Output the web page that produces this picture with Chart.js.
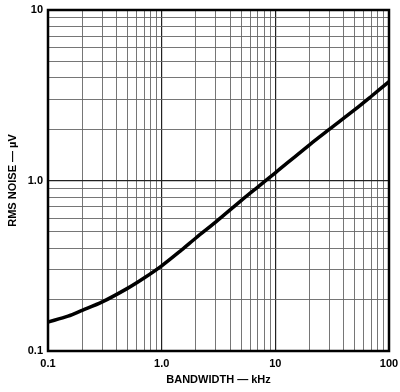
<!DOCTYPE html>
<html>
<head>
<meta charset="utf-8">
<script src="https://cdn.jsdelivr.net/npm/chart.js@4"></script>
<style>
  html, body { margin: 0; padding: 0; background: #fff; }
  #wrap { width: 400px; height: 392px; }
</style>
</head>
<body>
<div id="wrap"><canvas id="chart"></canvas></div>
<script>
// RMS noise vs bandwidth (log-log)
const bandwidthKHz = [0.1, 0.15, 0.2, 0.3, 0.5, 0.7, 1.0, 1.5, 2, 3, 5, 7, 10, 20, 30, 50, 70, 100];
const rmsNoiseUV   = [0.148, 0.160, 0.173, 0.194, 0.233, 0.268, 0.316, 0.392, 0.46, 0.572, 0.762, 0.915, 1.11, 1.62, 2.0, 2.6, 3.12, 3.8];

const xDecades = [0.1, 1, 10, 100];
const xTickLabels = ["0.1", "1.0", "10", "100"];
const yDecades = [0.1, 1, 10];
const yTickLabels = ["0.1", "1.0", "10"];

const FONT = { family: "'Liberation Sans', Arial, sans-serif", size: 11, weight: "bold" };

// 1..9 per decade for the grid, labels only at decades
const gridTicks = (decades) => {
  const out = [];
  decades.forEach((d, i) => {
    if (i === decades.length - 1) { out.push({ value: d }); return; }
    for (let m = 1; m <= 9; m++) out.push({ value: +(d * m).toPrecision(3) });
  });
  return out;
};
const labelFor = (decades, labels) => (v) => {
  const i = decades.findIndex((d) => Math.abs(d - v) < d * 1e-6);
  return i >= 0 ? labels[i] : "";
};
const isDecade = (decades, v) => decades.some((d) => Math.abs(d - v) < d * 1e-6);

const frame = {
  id: "frame",
  afterDatasetsDraw(chart) {
    const { left, top, right, bottom } = chart.chartArea;
    const c = chart.ctx;
    c.save();
    c.strokeStyle = "#000";
    c.lineWidth = 2.5;
    c.strokeRect(left, top, right - left, bottom - top);
    c.restore();
  },
};

new Chart(document.getElementById("chart"), {
  type: "line",
  plugins: [frame],
  data: {
    datasets: [{
      data: bandwidthKHz.map((x, i) => ({ x, y: rmsNoiseUV[i] })),
      borderColor: "#000",
      borderWidth: 3.5,
      pointRadius: 0,
      tension: 0.3,
      fill: false,
    }],
  },
  options: {
    responsive: true,
    maintainAspectRatio: false,
    animation: false,
    layout: { padding: { left: 0, right: 11, top: 10, bottom: 0 } },
    plugins: { legend: { display: false }, tooltip: { enabled: false } },
    scales: {
      x: {
        type: "logarithmic",
        min: 0.1, max: 100,
        afterBuildTicks: (s) => { s.ticks = gridTicks(xDecades); },
        afterFit: (s) => { s.height = 41; s.paddingLeft = 0; s.paddingRight = 0; },
        grid: {
          drawTicks: false,
          color: (ctx) => isDecade(xDecades, ctx.tick?.value) ? "#222" : "#666",
          lineWidth: (ctx) => isDecade(xDecades, ctx.tick?.value) ? 1.2 : 0.9,
          borderDash: [2, 1.5],
        },
        border: { display: false },
        ticks: {
          autoSkip: false, maxRotation: 0, padding: 6,
          color: "#000", font: FONT,
          callback: labelFor(xDecades, xTickLabels),
        },
        title: { display: true, text: "BANDWIDTH — kHz", color: "#000", font: FONT, padding: { top: 0, bottom: 5 } },
      },
      y: {
        type: "logarithmic",
        min: 0.1, max: 10,
        afterBuildTicks: (s) => { s.ticks = gridTicks(yDecades); },
        afterFit: (s) => { s.width = 48; s.paddingTop = 0; s.paddingBottom = 0; },
        grid: {
          drawTicks: false,
          color: (ctx) => isDecade(yDecades, ctx.tick?.value) ? "#222" : "#666",
          lineWidth: (ctx) => isDecade(yDecades, ctx.tick?.value) ? 1.2 : 0.9,
          borderDash: [2, 1.5],
        },
        border: { display: false },
        ticks: {
          autoSkip: false, padding: 5,
          color: "#000", font: FONT,
          callback: labelFor(yDecades, yTickLabels),
        },
        title: { display: true, text: "RMS NOISE — µV", color: "#000", font: FONT, padding: { top: 6, bottom: 0 } },
      },
    },
  },
});
</script>
</body>
</html>
